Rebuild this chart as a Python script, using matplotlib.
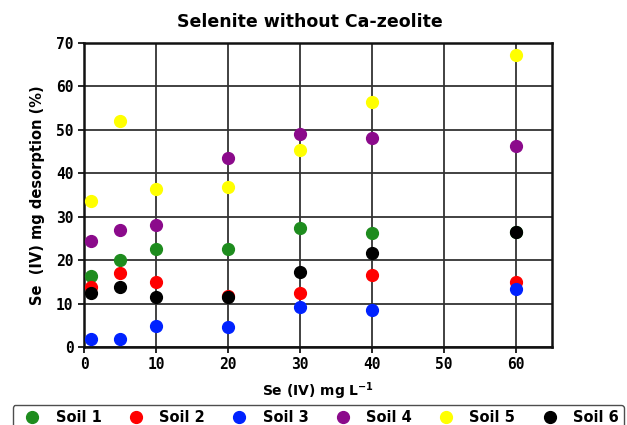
import numpy as np
import matplotlib
matplotlib.use("Agg")
import matplotlib.pyplot as plt

# Se (IV) concentrations (mg/L)
conc = [1, 5, 10, 20, 30, 40, 60]

soil1 = [16.4, 20.0, 22.6, 22.5, 27.4, 26.2, 26.5]
soil2 = [13.7, 17.0, 15.0, 11.7, 12.4, 16.6, 14.9]
soil3 = [1.8, 1.8, 4.8, 4.7, 9.1, 8.4, 13.3]
soil4 = [24.5, 26.9, 28.1, 43.5, 48.9, 48.0, 46.2]
soil5 = [33.5, 52.0, 36.4, 36.8, 45.4, 56.4, 67.2]
soil6 = [12.5, 13.7, 11.6, 11.6, 17.3, 21.7, 26.5]

names = ["Soil 1", "Soil 2", "Soil 3", "Soil 4", "Soil 5", "Soil 6"]
colors = ["#1e8c1e", "#ff0000", "#0022ff", "#8b0a8b", "#ffff00", "#000000"]
series = [soil1, soil2, soil3, soil4, soil5, soil6]

fig = plt.figure(figsize=(6.27, 4.25), dpi=100)
ax = fig.add_axes([0.134, 0.1835, 0.746, 0.716])

for name, c, vals in zip(names, colors, series):
    ax.plot(conc, vals, 'o', color=c, markersize=8.5, label=name, zorder=3)

ax.set_xlim(0, 65)
ax.set_ylim(0, 70)
ax.set_xticks(np.arange(0, 61, 10))
ax.set_yticks(np.arange(0, 71, 10))
ax.grid(True, color='#333333', linewidth=1.3)
ax.set_axisbelow(True)
for s in ax.spines.values():
    s.set_linewidth(1.8)
    s.set_color('#111111')

ax.tick_params(length=4, width=1.2, labelsize=10.5)
for lab in ax.get_xticklabels() + ax.get_yticklabels():
    lab.set_fontfamily('DejaVu Sans Mono')
    lab.set_fontweight('bold')

ax.set_xlabel(r'Se (IV) mg L$^{\mathbf{-1}}$', fontsize=10, fontweight='bold', labelpad=6)
ax.set_ylabel('Se  (IV) mg desorption (%)', fontsize=10.5, fontweight='bold', labelpad=8)
fig.text(0.494, 0.948, 'Selenite without Ca-zeolite', ha='center', va='center',
         fontsize=12.5, fontweight='bold')

leg = fig.legend(loc='lower left', bbox_to_anchor=(0.02, -0.012, 0.975, 0.08), mode='expand',
                 ncol=6, frameon=True, fancybox=True, fontsize=10.5, handletextpad=0.6,
                 markerscale=1.0, borderaxespad=0, borderpad=0.35)
leg.get_frame().set_edgecolor('#222222')
leg.get_frame().set_linewidth(1.0)
for t in leg.get_texts():
    t.set_fontweight('bold')

fig.savefig('out.png', dpi=100)
